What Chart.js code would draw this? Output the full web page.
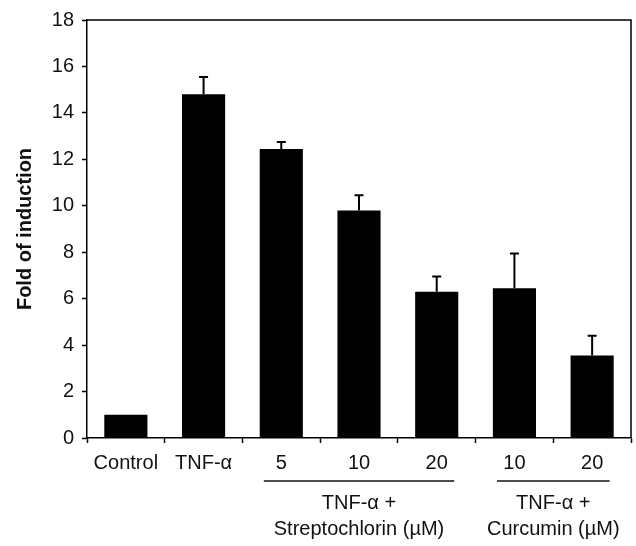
<!DOCTYPE html>
<html>
<head>
<meta charset="utf-8">
<script src="https://cdn.jsdelivr.net/npm/chart.js@4"></script>
<style>
  html, body { margin: 0; padding: 0; background: #fff; }
  #wrap { width: 636px; height: 546px; }
</style>
</head>
<body>
<div id="wrap"><canvas id="myChart"></canvas></div>
<script>
// data
const categories = ['Control', 'TNF-\u03b1', '5', '10', '20', '10', '20'];
const foldValues = [1.0, 14.8, 12.45, 9.8, 6.3, 6.45, 3.55];
const foldErrors = [0, 0.75, 0.3, 0.65, 0.65, 1.5, 0.85];
const yTicks = [0, 2, 4, 6, 8, 10, 12, 14, 16, 18];
const groups = [
  { from: 2, to: 4, lines: ['TNF-\u03b1 +', 'Streptochlorin (\u00b5M)'] },
  { from: 5, to: 6, lines: ['TNF-\u03b1 +', 'Curcumin (\u00b5M)'] }
];

const fontFamily = '"Liberation Sans", Arial, sans-serif';

// error bars (upper whisker only) + frame + group labels
const extrasPlugin = {
  id: 'extras',
  afterDatasetsDraw(chart) {
    const ctx = chart.ctx;
    const x = chart.scales.x;
    const y = chart.scales.y;
    ctx.save();
    ctx.strokeStyle = '#000';
    ctx.lineWidth = 2;
    for (let i = 0; i < foldValues.length; i++) {
      if (!foldErrors[i]) continue;
      let px = x.getPixelForValue(i);
      let y0 = y.getPixelForValue(foldValues[i]);
      let y1 = y.getPixelForValue(foldValues[i] + foldErrors[i]);
      ctx.beginPath();
      ctx.moveTo(px, y0);
      ctx.lineTo(px, y1);
      ctx.moveTo(px - 4.5, y1);
      ctx.lineTo(px + 4.5, y1);
      ctx.stroke();
    }
    // top and right border
    const a = chart.chartArea;
    ctx.lineWidth = 1.5;
    ctx.beginPath();
    ctx.moveTo(a.left, a.top);
    ctx.lineTo(a.right, a.top);
    ctx.lineTo(a.right, a.bottom);
    ctx.stroke();
    ctx.restore();
  },
  afterDraw(chart) {
    const ctx = chart.ctx;
    const x = chart.scales.x;
    const half = (x.getPixelForValue(1) - x.getPixelForValue(0)) / 2;
    ctx.save();
    ctx.fillStyle = '#111';
    ctx.strokeStyle = '#111';
    ctx.lineWidth = 1.5;
    ctx.font = '20px ' + fontFamily;
    ctx.textAlign = 'center';
    ctx.textBaseline = 'middle';
    groups.forEach(g => {
      let left = x.getPixelForValue(g.from) - half * 0.45;
      let right = x.getPixelForValue(g.to) + half * 0.45;
      ctx.beginPath();
      ctx.moveTo(left, 481);
      ctx.lineTo(right, 481);
      ctx.stroke();
      let cx = (left + right) / 2;
      ctx.fillText(g.lines[0], cx, 503);
      ctx.fillText(g.lines[1], cx, 529);
    });
    ctx.restore();
  }
};

const ctx = document.getElementById('myChart');

new Chart(ctx, {
  type: 'bar',
  data: {
    labels: categories,
    datasets: [{
      label: 'Fold of induction',
      data: foldValues,
      backgroundColor: '#000',
      borderWidth: 0,
      barPercentage: 0.555,
      categoryPercentage: 1.0
    }]
  },
  options: {
    responsive: true,
    maintainAspectRatio: false,
    animation: false,
    layout: { padding: { top: 20, right: 5, left: 0, bottom: 0 } },
    plugins: {
      legend: { display: false },
      tooltip: { enabled: false }
    },
    scales: {
      x: {
        afterFit: s => { s.height = 108; },
        grid: {
          drawOnChartArea: false,
          drawTicks: true,
          tickLength: 5,
          tickWidth: 1.5,
          tickColor: '#000',
          offset: true
        },
        border: { color: '#000', width: 1.5 },
        ticks: {
          color: '#111',
          padding: 8,
          maxRotation: 0,
          autoSkip: false,
          font: { family: fontFamily, size: 20 }
        }
      },
      y: {
        min: 0,
        max: 18,
        afterFit: s => { s.width = 87; },
        afterBuildTicks: s => { s.ticks = yTicks.map(v => ({ value: v })); },
        grid: {
          drawOnChartArea: false,
          drawTicks: true,
          tickLength: 5,
          tickWidth: 1.5,
          tickColor: '#000'
        },
        border: { color: '#000', width: 1.5 },
        ticks: {
          color: '#111',
          padding: 8,
          font: { family: fontFamily, size: 20 }
        },
        title: {
          display: true,
          text: 'Fold of induction',
          color: '#111',
          padding: { top: 13, bottom: 0 },
          font: { family: fontFamily, size: 20, weight: 'bold' }
        }
      }
    }
  },
  plugins: [extrasPlugin]
});
</script>
</body>
</html>
